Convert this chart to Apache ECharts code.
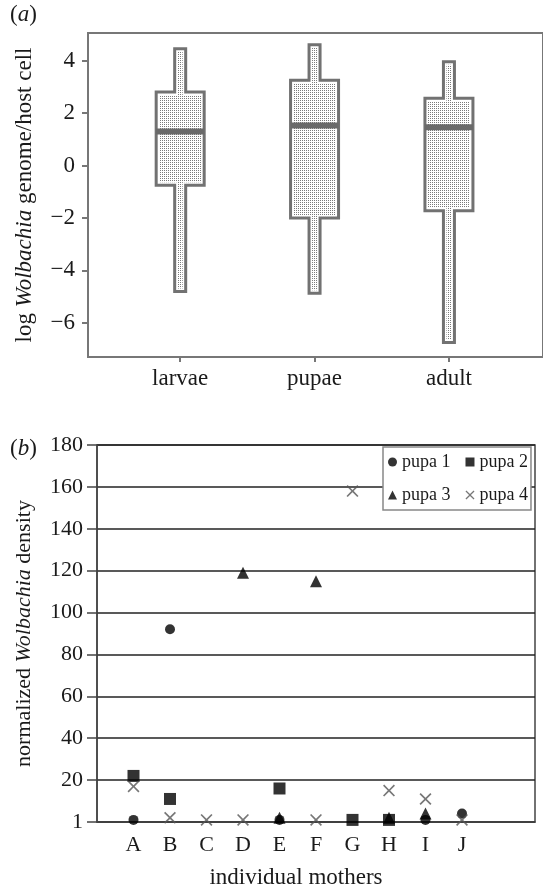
<!DOCTYPE html>
<html>
<head>
<meta charset="utf-8">
<script src="https://cdn.jsdelivr.net/npm/echarts@6/dist/echarts.min.js"></script>
<style>
  html, body { margin: 0; padding: 0; background: #fff; }
  #chart { width: 543px; height: 888px; }
</style>
</head>
<body>
<div id="chart"></div>
<script>
//  (a) 各阶段的箱线数据
const stageNames = ['larvae', 'pupae', 'adult'];
const whiskerLow = [-4.8, -4.87, -6.75];
const boxQ1 = [-0.75, -2.0, -1.73];
const boxMedian = [1.3, 1.52, 1.46];
const boxQ3 = [2.8, 3.25, 2.56];
const whiskerHigh = [4.45, 4.6, 3.95];
const logTicks = [-6, -4, -2, 0, 2, 4];

//  (b) 每个母本的后代密度
const mothers = ['A', 'B', 'C', 'D', 'E', 'F', 'G', 'H', 'I', 'J'];
const pupa1 = [1, 92, null, null, 1, null, null, null, 1, 4];
const pupa2 = [22, 11, null, null, 16, null, 1, 1, null, null];
const pupa3 = [null, null, null, 119, 2, 115, null, 2, 4, null];
const pupa4 = [17, 2, 1, 1, null, 1, 158, 15, 11, 1];
const densityTicks = ['1', '20', '40', '60', '80', '100', '120', '140', '160', '180'];

const SERIF = '"Liberation Serif", "DejaVu Serif", serif';
const INK = '#1a1a1a';

//  点阵填充
const dotCanvas = document.createElement('canvas');
dotCanvas.width = 2;
dotCanvas.height = 2;
(function () {
    const ctx = dotCanvas.getContext('2d');
    ctx.fillStyle = '#fff';
    ctx.fillRect(0, 0, 2, 2);
    ctx.fillStyle = '#7a7a7a';
    ctx.fillRect(0, 0, 1, 1);
}());

const boxData = stageNames.map(function (name, i) {
    return [i + 1, whiskerLow[i], boxQ1[i], boxMedian[i], boxQ3[i], whiskerHigh[i]];
});

function renderBox(params, api) {
    const x = api.value(0);
    const low = api.coord([x, api.value(1)]);
    const q1 = api.coord([x, api.value(2)]);
    const med = api.coord([x, api.value(3)]);
    const q3 = api.coord([x, api.value(4)]);
    const high = api.coord([x, api.value(5)]);
    const cx = low[0];
    const ww = 5.5;
    const bw = 24;
    const pts = [
        [cx - ww, high[1]], [cx + ww, high[1]], [cx + ww, q3[1]], [cx + bw, q3[1]],
        [cx + bw, q1[1]], [cx + ww, q1[1]], [cx + ww, low[1]], [cx - ww, low[1]],
        [cx - ww, q1[1]], [cx - bw, q1[1]], [cx - bw, q3[1]], [cx - ww, q3[1]]
    ];
    return {
        type: 'group',
        children: [{
            type: 'polygon',
            shape: {points: pts},
            style: {fill: {image: dotCanvas, repeat: 'repeat'}, stroke: '#fff', lineWidth: 6}
        }, {
            type: 'polygon',
            shape: {points: pts},
            style: {fill: null, stroke: '#727272', lineWidth: 3}
        }, {
            type: 'rect',
            shape: {x: cx - bw, y: med[1] - 3, width: bw * 2, height: 6},
            style: {fill: '#6a6a6a'}
        }]
    };
}

function toXY(values) {
    return values.map(function (v, i) {
        return v === null ? [i + 1, '-'] : [i + 1, v];
    });
}

const crossPath = 'path://M0,1L1,0L5,4L9,0L10,1L6,5L10,9L9,10L5,6L1,10L0,9L4,5Z';

const myChart = echarts.init(document.getElementById('chart'), null, {renderer: 'canvas'});
myChart.setOption({
    backgroundColor: '#fff',
    animation: false,
    textStyle: {fontFamily: SERIF, color: INK},
    grid: [
        {left: 88, top: 33, width: 464, height: 324, show: true, borderColor: '#777', borderWidth: 2},
        {left: 97, top: 445, width: 438, height: 377, show: true, borderColor: '#444', borderWidth: 1.5}
    ],
    xAxis: [{
        gridIndex: 0,
        type: 'value',
        min: 0.314,
        max: 3.7,
        axisLine: {onZero: false, lineStyle: {color: '#777', width: 2}},
        axisTick: {customValues: [1, 2, 3], length: 5, lineStyle: {color: '#777', width: 2}},
        axisLabel: {
            customValues: [1, 2, 3],
            formatter: function (v) { return stageNames[Math.round(v) - 1]; },
            fontFamily: SERIF, fontSize: 23, color: INK, margin: 10
        },
        splitLine: {show: false}
    }, {
        gridIndex: 1,
        type: 'value',
        min: 0,
        max: 12,
        axisLine: {onZero: false, lineStyle: {color: '#444', width: 1.5}},
        axisTick: {show: false},
        axisLabel: {
            customValues: [1, 2, 3, 4, 5, 6, 7, 8, 9, 10],
            formatter: function (v) { return mothers[Math.round(v) - 1]; },
            fontFamily: SERIF, fontSize: 22, color: INK, margin: 12
        },
        splitLine: {show: false}
    }],
    yAxis: [{
        gridIndex: 0,
        type: 'value',
        min: -7.3,
        max: 5.05,
        name: '{n|log }{i|Wolbachia}{n| genome/host cell}',
        nameLocation: 'middle',
        nameGap: 52,
        nameTextStyle: {
            rich: {
                n: {fontFamily: SERIF, fontSize: 23, color: INK},
                i: {fontFamily: SERIF, fontSize: 23, fontStyle: 'italic', color: INK}
            }
        },
        axisLine: {onZero: false, lineStyle: {color: '#777', width: 2}},
        axisTick: {customValues: logTicks, length: 6, lineStyle: {color: '#777', width: 2}},
        axisLabel: {
            customValues: logTicks,
            formatter: function (v) { return String(v).replace('-', '\u2212'); },
            fontFamily: SERIF, fontSize: 23, color: INK, margin: 13
        },
        splitLine: {show: false}
    }, {
        gridIndex: 1,
        type: 'value',
        min: 0,
        max: 180,
        interval: 20,
        name: '{n|normalized }{i|Wolbachia}{n| density}',
        nameLocation: 'middle',
        nameGap: 62,
        nameTextStyle: {
            rich: {
                n: {fontFamily: SERIF, fontSize: 22, color: INK},
                i: {fontFamily: SERIF, fontSize: 22, fontStyle: 'italic', color: INK}
            }
        },
        axisLine: {onZero: false, lineStyle: {color: '#444', width: 1.5}},
        axisTick: {length: 10, lineStyle: {color: '#444', width: 1.5}},
        axisLabel: {
            formatter: function (v) { return densityTicks[Math.round(v / 20)]; },
            fontFamily: SERIF, fontSize: 22, color: INK, margin: 14
        },
        splitLine: {lineStyle: {color: '#222', width: 1.5}}
    }],
    legend: {
        data: ['pupa 1', 'pupa 2', 'pupa 3', 'pupa 4'],
        left: 383,
        top: 447,
        width: 160,
        padding: [6, 3, 6, 5],
        itemGap: 15,
        itemWidth: 9,
        itemHeight: 9,
        backgroundColor: '#fff',
        borderColor: '#888',
        borderWidth: 1.5,
        borderRadius: 0,
        textStyle: {fontFamily: SERIF, fontSize: 18, color: INK}
    },
    graphic: [{
        type: 'text',
        left: 10,
        top: 3,
        style: {
            text: '{n|(}{i|a}{n|)}',
            rich: {
                n: {fontFamily: SERIF, fontSize: 23, fill: INK},
                i: {fontFamily: SERIF, fontSize: 23, fontStyle: 'italic', fill: INK}
            }
        }
    }, {
        type: 'text',
        left: 10,
        top: 437,
        style: {
            text: '{n|(}{i|b}{n|)}',
            rich: {
                n: {fontFamily: SERIF, fontSize: 23, fill: INK},
                i: {fontFamily: SERIF, fontSize: 23, fontStyle: 'italic', fill: INK}
            }
        }
    }, {
        type: 'text',
        x: 296,
        y: 878,
        style: {
            text: 'individual mothers',
            fontFamily: SERIF, fontSize: 23, fill: INK,
            align: 'center', verticalAlign: 'middle'
        }
    }],
    series: [{
        type: 'custom',
        xAxisIndex: 0,
        yAxisIndex: 0,
        renderItem: renderBox,
        data: boxData,
        clip: false
    }, {
        name: 'pupa 1',
        type: 'scatter',
        xAxisIndex: 1,
        yAxisIndex: 1,
        symbol: 'circle',
        symbolSize: 10,
        itemStyle: {color: '#000'},
        data: toXY(pupa1),
        z: 4
    }, {
        name: 'pupa 2',
        type: 'scatter',
        xAxisIndex: 1,
        yAxisIndex: 1,
        symbol: 'rect',
        symbolSize: 12,
        itemStyle: {color: '#000'},
        data: toXY(pupa2),
        z: 3
    }, {
        name: 'pupa 3',
        type: 'scatter',
        xAxisIndex: 1,
        yAxisIndex: 1,
        symbol: 'triangle',
        symbolSize: 12,
        itemStyle: {color: '#000'},
        data: toXY(pupa3),
        z: 2
    }, {
        name: 'pupa 4',
        type: 'scatter',
        xAxisIndex: 1,
        yAxisIndex: 1,
        symbol: crossPath,
        symbolSize: 12,
        itemStyle: {color: '#555'},
        data: toXY(pupa4),
        z: 5
    }]
});
</script>
</body>
</html>
